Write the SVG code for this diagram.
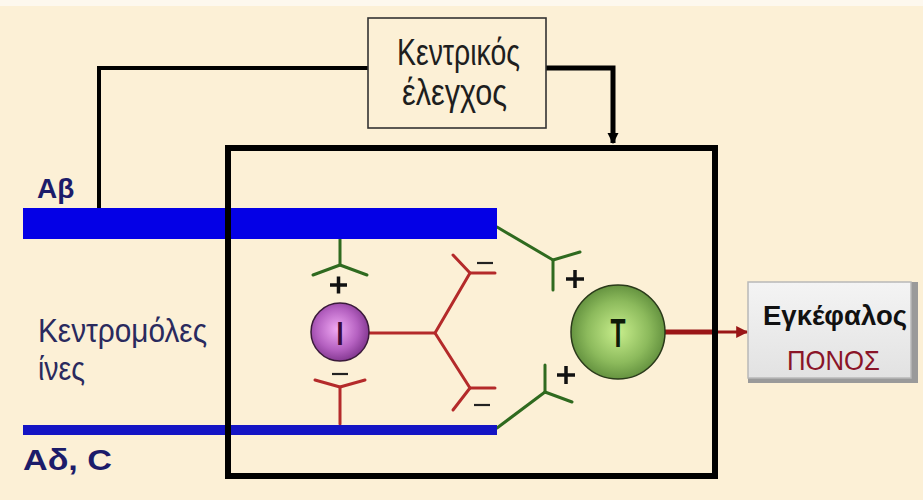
<svg xmlns="http://www.w3.org/2000/svg" width="923" height="500" viewBox="0 0 923 500">
  <style>
    .lbl { font-family: "Liberation Sans", Arial, sans-serif; }
    .thin { font-family: "Liberation Sans", Arial, sans-serif; font-weight: normal; }
    .fiber { font-weight: bold; fill: #1c1c6a; }
    .green { stroke: #2f6a1f; stroke-width: 3; fill: none; stroke-linecap: round; stroke-linejoin: round; }
    .red { stroke: #b42a2a; stroke-width: 3; fill: none; stroke-linecap: round; stroke-linejoin: round; }
    .plus { stroke: #111; stroke-width: 3.5; fill: none; }
    .minus { stroke: #222; stroke-width: 2.2; fill: none; }
    .blk { stroke: #000; fill: none; }
  </style>
  <defs>
    <radialGradient id="gI" cx="0.45" cy="0.45" r="0.6">
      <stop offset="0" stop-color="#f0a8f4"/>
      <stop offset="0.6" stop-color="#b460c0"/>
      <stop offset="1" stop-color="#7a3088"/>
    </radialGradient>
    <radialGradient id="gT" cx="0.5" cy="0.5" r="0.55">
      <stop offset="0" stop-color="#c8ee8c"/>
      <stop offset="0.6" stop-color="#8cba5c"/>
      <stop offset="1" stop-color="#5a8838"/>
    </radialGradient>
    <linearGradient id="gBtn" x1="0" y1="0" x2="0" y2="1">
      <stop offset="0" stop-color="#f4f4f4"/>
      <stop offset="1" stop-color="#e2e2e2"/>
    </linearGradient>
    <marker id="ahBlk" viewBox="0 0 10 10" refX="9" refY="5" markerWidth="2.2" markerHeight="2.4" orient="auto" markerUnits="strokeWidth">
      <path d="M0,0 L10,5 L0,10 z" fill="#000"/>
    </marker>
    <marker id="ahRed" viewBox="0 0 10 10" refX="9" refY="5" markerWidth="4.5" markerHeight="4" orient="auto" markerUnits="strokeWidth">
      <path d="M0,0 L10,5 L0,10 z" fill="#9a1616"/>
    </marker>
  </defs>

  <rect x="0" y="0" width="923" height="500" fill="#fcf0d6"/>
  <rect x="0" y="0" width="923" height="6" fill="#fdf8ee"/>

  <!-- connectors -->
  <g id="connectors">
    <polyline class="blk" stroke-width="4" points="368,68 99,68 99,208"/>
    <polyline class="blk" stroke-width="5" points="546,68 613,68 613,143" marker-end="url(#ahBlk)"/>
    <line x1="665" y1="332" x2="714" y2="332" stroke="#9a1616" stroke-width="5"/>
    <line x1="712" y1="332" x2="747" y2="332" stroke="#9a1616" stroke-width="3" marker-end="url(#ahRed)"/>
    <!-- red inhibitory network from I -->
    <polyline class="red" points="369,333 435,333 470,273 495,273"/>
    <line class="red" x1="470" y1="273" x2="453" y2="255"/>
    <polyline class="red" points="435,333 470,388 495,388"/>
    <line class="red" x1="470" y1="388" x2="453" y2="410"/>
    <!-- red receptor below I -->
    <polyline class="red" points="340,424 340,387"/>
    <polyline class="red" points="315,380 340,387 365,380"/>
    <!-- green receptor above I -->
    <polyline class="green" points="340,238 340,265"/>
    <polyline class="green" points="313,275 340,265 367,275"/>
    <!-- green Aβ to T -->
    <polyline class="green" points="497,227 553,260 580,252"/>
    <line class="green" x1="553" y1="260" x2="553" y2="290"/>
    <!-- green Aδ to T -->
    <polyline class="green" points="497,428 545,392 572,402"/>
    <line class="green" x1="545" y1="392" x2="545" y2="365"/>
    <!-- signs -->
    <path class="plus" d="M330,285 h17 M338.5,276.5 v17"/>
    <path class="plus" d="M566,279 h18 M575,270 v18"/>
    <path class="plus" d="M557,375 h18 M566,366 v18"/>
    <path class="minus" d="M332,374 h16"/>
    <path class="minus" d="M477,263 h16"/>
    <path class="minus" d="M474,405 h16"/>
  </g>

  <!-- fibres -->
  <g id="fiber-abeta">
    <rect x="23" y="208" width="474" height="31" fill="#0400e6"/>
    <text class="lbl fiber" x="37" y="198" font-size="28">Αβ</text>
  </g>
  <g id="fiber-adelta">
    <rect x="23" y="425" width="474" height="10" fill="#1414c4"/>
    <text class="lbl fiber" x="23" y="470" font-size="29" textLength="89" lengthAdjust="spacingAndGlyphs">Αδ, C</text>
  </g>
  <g id="label-afferent">
    <text class="thin" x="38" y="342" font-size="34" fill="#2a2a5e" textLength="169" lengthAdjust="spacingAndGlyphs">Κεντρομόλες</text>
    <text class="thin" x="38" y="380" font-size="34" fill="#2a2a5e" textLength="47" lengthAdjust="spacingAndGlyphs">ίνες</text>
  </g>

  <!-- gate (spinal cord) box -->
  <g id="gate">
    <rect x="228" y="148" width="487" height="328" fill="none" stroke="#000" stroke-width="6"/>
  </g>

  <!-- central control -->
  <g id="central-control">
    <rect x="368" y="18" width="178" height="110" fill="#fcf0d6" stroke="#333" stroke-width="1.6"/>
    <text class="thin" x="397" y="65" font-size="36" fill="#1e1e1e" textLength="123" lengthAdjust="spacingAndGlyphs">Κεντρικός</text>
    <text class="thin" x="402" y="105" font-size="36" fill="#1e1e1e" textLength="105" lengthAdjust="spacingAndGlyphs">έλεγχος</text>
  </g>

  <!-- inhibitory interneuron I -->
  <g id="node-I">
    <circle cx="340" cy="332" r="29" fill="url(#gI)" stroke="#3a1a3a" stroke-width="1.5"/>
    <text class="lbl" x="340" y="345" font-size="34" font-weight="bold" fill="#3a0a3a" text-anchor="middle" textLength="7" lengthAdjust="spacingAndGlyphs">I</text>
  </g>

  <!-- transmission cell T -->
  <g id="node-T">
    <circle cx="618" cy="332" r="47" fill="url(#gT)" stroke="#2a3a1a" stroke-width="1.5"/>
    <text class="lbl" x="618" y="347" font-size="40" font-weight="bold" fill="#0e1a08" text-anchor="middle" textLength="15" lengthAdjust="spacingAndGlyphs">T</text>
  </g>

  <!-- brain -->
  <g id="brain">
    <rect x="748" y="282" width="170" height="101" fill="#9a9a9a"/>
    <rect x="748" y="282" width="163" height="96" fill="url(#gBtn)" stroke="#b8b8b8" stroke-width="1.5"/>
    <text class="lbl" x="763" y="325" font-size="28" font-weight="bold" fill="#111" textLength="144" lengthAdjust="spacingAndGlyphs">Εγκέφαλος</text>
    <text class="lbl" x="787" y="370" font-size="28" fill="#8a1428" textLength="93" lengthAdjust="spacingAndGlyphs">ΠΟΝΟΣ</text>
  </g>
</svg>
